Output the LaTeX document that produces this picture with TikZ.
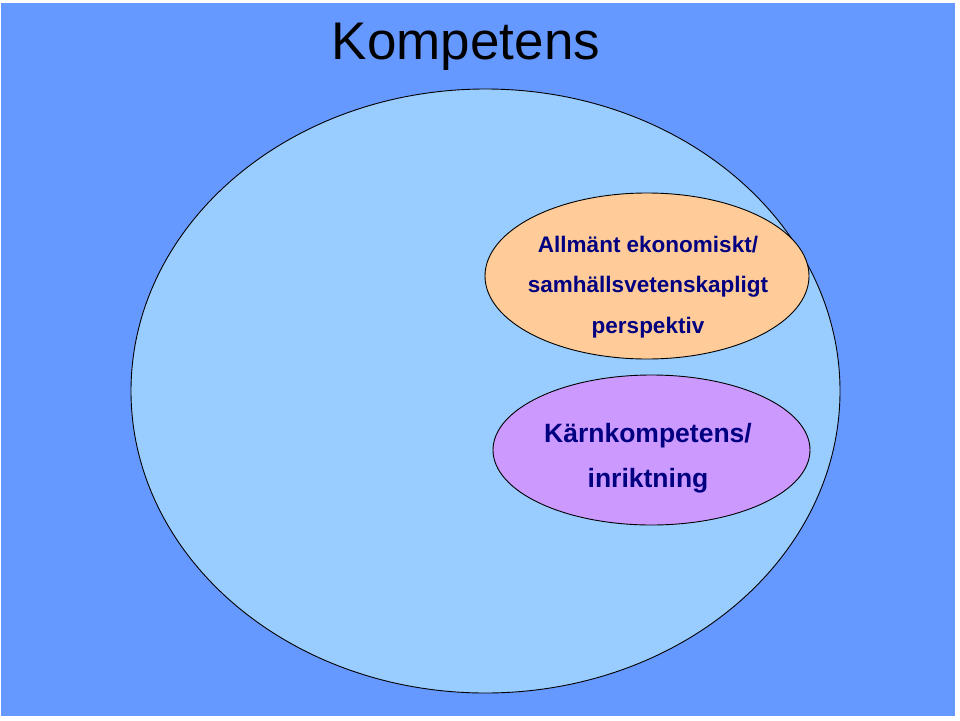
\documentclass[tikz,border=0pt]{standalone}
\usepackage{fontspec}
\setmainfont{Liberation Sans}
\usetikzlibrary{shapes.geometric}
\definecolor{bgblue}{HTML}{6699FF}
\definecolor{lightblue}{HTML}{99CCFF}
\definecolor{peach}{HTML}{FFCC99}
\definecolor{lilac}{HTML}{CC99FF}
\definecolor{navy}{HTML}{000080}
\tikzset{
  oval/.style={ellipse, draw=black, line width=0.9pt, inner sep=0pt},
  inner/.style={font=\bfseries\fontsize{22.5}{40.5}\selectfont, text=navy, align=center, inner sep=0pt},
}
\begin{document}
\begin{tikzpicture}[x=1pt,y=-1pt]
\useasboundingbox (0,0) rectangle (960,720);
\fill[white] (0,0) rectangle (960,720);
\fill[bgblue] (1,3) rectangle (955,716);
\node[oval, fill=lightblue, minimum width=709pt, minimum height=604pt] (big) at (485.5,391) {};
\node[oval, fill=peach, minimum width=324pt, minimum height=166pt] (orange) at (647,276) {};
\node[oval, fill=lilac, minimum width=317pt, minimum height=150pt] (purple) at (651.5,450) {};
\node[font=\fontsize{53}{60}\selectfont, anchor=base, inner sep=0pt] (title) at (466,59) {Kompetens};
\node[inner, anchor=base] (otext) at (648,333) {Allmänt ekonomiskt/\\samhällsvetenskapligt\\perspektiv};
\node[inner, font=\bfseries\fontsize{26.5}{45}\selectfont, anchor=base] (ptext) at (648,487) {Kärnkompetens/\\inriktning};
\end{tikzpicture}
\end{document}
